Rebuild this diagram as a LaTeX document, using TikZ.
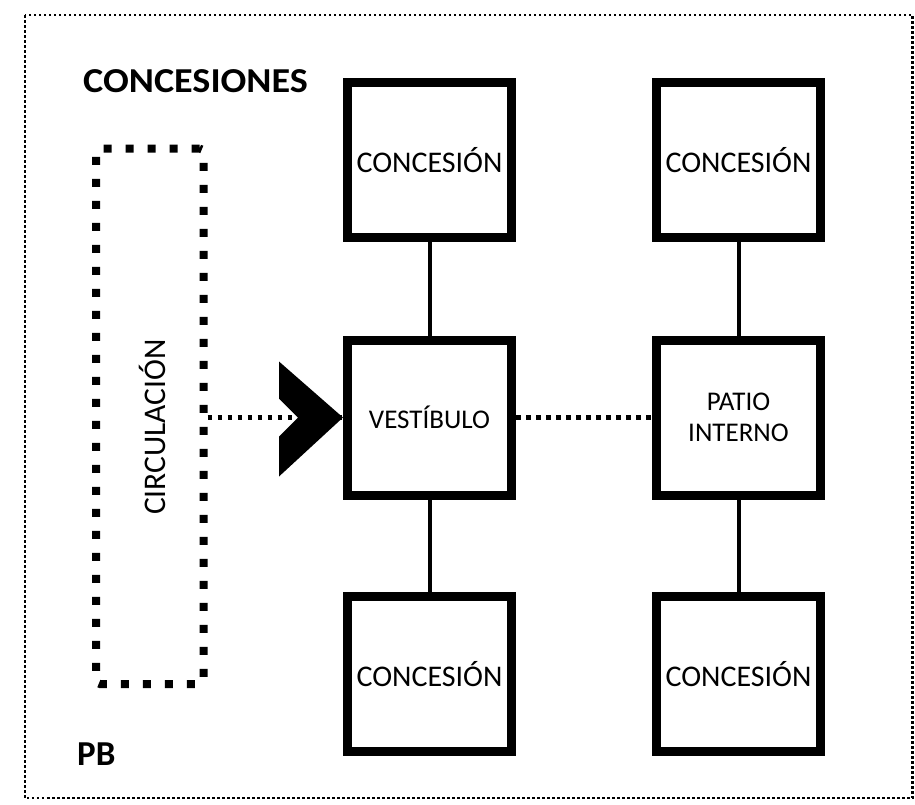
\documentclass[tikz,border=0pt]{standalone}
\usepackage{fontspec}
\setmainfont{Carlito}
\begin{document}
\begin{tikzpicture}[x=1pt,y=-1pt,
  box/.style={draw, line width=9pt, minimum width=164pt, minimum height=155pt,
    inner sep=0pt, align=center, font=\fontsize{30}{36}\selectfont},
  smallbox/.style={box, font=\fontsize{27}{31}\selectfont},
  link/.style={line width=4pt},
  dotlink/.style={line width=4.5pt, dash pattern=on 4.5pt off 5.5pt},
  circbox/.style={draw, line width=8pt, dash pattern=on 8pt off 14pt, rounded corners=4pt,
    minimum width=107.5pt, minimum height=535.5pt, inner sep=0pt},
  frame/.style={line width=2.5pt, dash pattern=on 2.5pt off 2.5pt},
  title/.style={inner sep=0pt, font=\bfseries\fontsize{35}{40}\selectfont},
  label/.style={inner sep=0pt, font=\fontsize{31.5}{36}\selectfont}
]
\useasboundingbox (0,0) rectangle (915,804);
\draw[frame] (25,15) rectangle (912.5,798);

\node[title, anchor=base west] (tconc) at (83,92) {\scalebox{1.09}[1]{CONCESIONES}};
\node[title, anchor=base west] (tpb) at (77,765) {PB};

\node[box] (c1) at (429.5,160) {CONCESIÓN};
\node[box] (c2) at (738.5,160) {CONCESIÓN};
\node[smallbox] (vest) at (429.5,417.5) {VESTÍBULO};
\node[smallbox] (patio) at (738.5,417.5) {PATIO\\INTERNO};
\node[box] (c3) at (429.5,674) {CONCESIÓN};
\node[box] (c4) at (738.5,674) {CONCESIÓN};

\node[circbox] (circ) at (149.75,416.25) {};
\node[label] (circlabel) at (152,427) {\rotatebox{90}{CIRCULACIÓN}};

\draw[link] (c1) -- (vest);
\draw[link] (vest) -- (c3);
\draw[link] (c2) -- (patio);
\draw[link] (patio) -- (c4);
\draw[dotlink] (vest) -- (patio);
\draw[dotlink] (circ.east |- vest.west) -- (vest.west);
\fill (vest.west) -- ++(-64,-56) -- ++(0,37) -- ++(19,19) -- ++(-19,19) -- ++(0,40) -- cycle;
\end{tikzpicture}
\end{document}
